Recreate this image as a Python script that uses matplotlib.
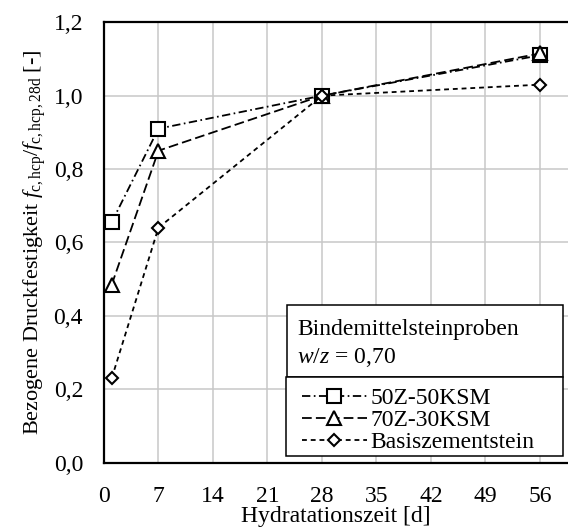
# Druckfestigkeitsentwicklung der Bindemittelsteinproben, bezogen auf 28 d
import matplotlib
matplotlib.use("Agg")
import matplotlib.pyplot as plt
from matplotlib.patches import Rectangle

plt.rcParams['font.family'] = ['Liberation Serif', 'DejaVu Serif']
plt.rcParams['mathtext.fontset'] = 'custom'
plt.rcParams['mathtext.rm'] = 'Liberation Serif'
plt.rcParams['mathtext.it'] = 'Liberation Serif:italic'
plt.rcParams['lines.scale_dashes'] = False

tage = [1, 7, 28, 56]
z50_ksm50 = [0.655, 0.91, 1.0, 1.11]
z70_ksm30 = [0.485, 0.85, 1.0, 1.115]
basis = [0.23, 0.64, 1.0, 1.03]

xticks = [0, 7, 14, 21, 28, 35, 42, 49, 56]
yticks = [0.0, 0.2, 0.4, 0.6, 0.8, 1.0, 1.2]
ylabels = ["0,0", "0,2", "0,4", "0,6", "0,8", "1,0", "1,2"]

fig = plt.figure(figsize=(5.68, 5.32), dpi=100)
ax = fig.add_axes([0.183, 0.1306, 0.817, 0.8275])

ax.plot(tage, z50_ksm50, color='black', lw=1.3, ls=(0, (6, 2.5, 1.2, 2.5)),
        marker='s', ms=9.5, mfc='white', mec='black', mew=1.5,
        label="50Z-50KSM", clip_on=False)
ax.plot(tage, z70_ksm30, color='black', lw=1.3, ls=(0, (7, 3)),
        marker='^', ms=9.5, mfc='white', mec='black', mew=1.5,
        label="70Z-30KSM", clip_on=False)
ax.plot(tage, basis, color='black', lw=1.3, ls=(0, (3.5, 2.8)),
        marker='D', ms=6.5, mfc='white', mec='black', mew=1.5,
        label="Basiszementstein", clip_on=False)

ax.set_xlim(0, 59.6)
ax.set_ylim(0, 1.2)
ax.set_xticks(xticks)
ax.set_xticklabels([str(t) for t in xticks])
ax.set_yticks(yticks)
ax.set_yticklabels(ylabels)
ax.tick_params(axis='both', length=0, labelsize=17)
ax.tick_params(axis='x', pad=17)
ax.tick_params(axis='y', pad=15)

ax.grid(True, color='#c8c8c8', lw=1.1)
ax.set_axisbelow(True)
for side in ['left', 'bottom', 'top']:
    ax.spines[side].set_linewidth(1.6)
    ax.spines[side].set_color('black')
ax.spines['right'].set_visible(False)

ax.set_xlabel("Hydratationszeit [d]", fontsize=17, labelpad=-1)
ax.set_ylabel(r"Bezogene Druckfestigkeit $f_{\mathrm{c,hcp}}/f_{\mathrm{c,hcp,28d}}$ [-]",
              fontsize=16, labelpad=4)

# Kasten mit Probenbeschreibung
fig.patches.append(Rectangle((0.5053, 0.2914), 0.486, 0.1353, transform=fig.transFigure,
                             facecolor='white', edgecolor='black', lw=1.1, zorder=5))
fig.text(0.523, 0.3703, "Bindemittelsteinproben", fontsize=17, va='baseline', zorder=6)
fig.text(0.523, 0.3177, r"$w$/$z$ = 0,70", fontsize=17, va='baseline', zorder=6)

# Rahmen der Legende direkt darunter
fig.patches.append(Rectangle((0.5035, 0.1429), 0.4877, 0.1485, transform=fig.transFigure,
                             facecolor='white', edgecolor='black', lw=1.1, zorder=5))
handles, labels = ax.get_legend_handles_labels()
leg = fig.legend(handles, labels, loc='lower left', bbox_to_anchor=(302 / 568, 0.148),
                 fontsize=17, frameon=False,
                 handlelength=2.75, handletextpad=0.15, labelspacing=0.02,
                 borderpad=0, borderaxespad=0, numpoints=1)
leg.set_zorder(6)

fig.savefig("out.png", dpi=100)
